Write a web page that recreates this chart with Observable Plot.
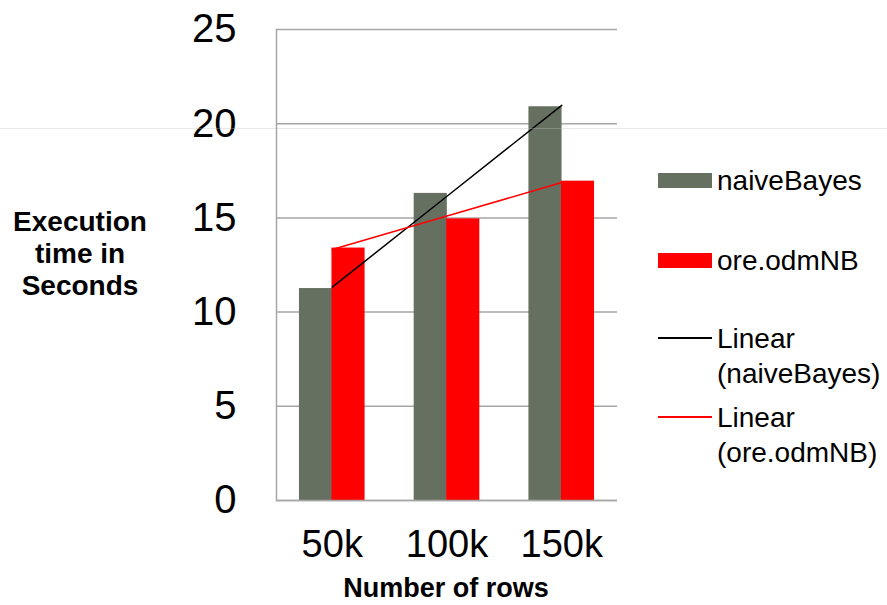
<!DOCTYPE html>
<html><head><meta charset="utf-8">
<script src="https://cdn.jsdelivr.net/npm/d3@7"></script>
<script src="https://cdn.jsdelivr.net/npm/@observablehq/plot@0.6"></script>
<style>
body{margin:0;background:#fff;font-family:"Liberation Sans",Arial,sans-serif;color:#000}
#wrap{position:relative;width:887px;height:605px;overflow:hidden}
#chart{position:absolute;left:0;top:0}
.abs{position:absolute;white-space:nowrap}
#ytitle{left:0;width:160px;top:206px;text-align:center;font-weight:bold;font-size:28px;line-height:32px}
#xtitle{left:246px;width:400px;top:573px;text-align:center;font-weight:bold;font-size:27px;line-height:30px}
.sw{position:absolute;width:54px}
.lt{position:absolute;font-size:28px;line-height:35px}
#artifact{position:absolute;left:0;top:128px;width:887px;height:1px;background:rgba(190,190,190,0.35)}
</style></head><body>
<div id="wrap">
<div id="chart"></div>
<div id="ytitle" class="abs">Execution<br>time in<br>Seconds</div>
<div id="xtitle" class="abs">Number of rows</div>
<div id="legend"></div>
<div id="artifact"></div>
</div>
<script>
const categories = ["50k", "100k", "150k"];
const seriesNames = ["naiveBayes", "ore.odmNB"];
const naiveBayes = [11.25, 16.3, 20.9];
const oreOdmNB = [13.4, 14.95, 16.95];
const yTicks = [0, 5, 10, 15, 20, 25];
const trendNames = ["Linear\n(naiveBayes)", "Linear\n(ore.odmNB)"];
const colors = {naiveBayes: "#667060", ore: "#ff0000", trendNB: "#000000", trendOre: "#ff0000", grid: "#a6a6a6"};

// least-squares linear trend over category index (1..n), like a spreadsheet trendline
function linearTrend(vals) {
  const xs = vals.map((_, i) => i + 1);
  const mx = d3.mean(xs), my = d3.mean(vals);
  const b = d3.sum(xs, (x, i) => (x - mx) * (vals[i] - my)) / d3.sum(xs, x => (x - mx) ** 2);
  const a = my - b * mx;
  return xs.map((x, i) => ({cat: categories[i], v: a + b * x}));
}

const table = categories.map((c, i) => ({cat: c, nb: naiveBayes[i], ore: oreOdmNB[i]}));
const trendNB = linearTrend(naiveBayes);
const trendOre = linearTrend(oreOdmNB);

const chart = Plot.plot({
  width: 887, height: 605,
  marginLeft: 276, marginRight: 270, marginTop: 29, marginBottom: 105,
  x: {domain: categories, paddingInner: 0.428, paddingOuter: 0.2, round: false, label: null},
  y: {domain: [0, 25], label: null},
  style: {fontFamily: "'Liberation Sans', Arial, sans-serif", color: "#000", background: "transparent"},
  marks: [
    Plot.gridY(yTicks, {stroke: colors.grid, strokeOpacity: 1, strokeWidth: 1.5}),
    Plot.barY(table, {x: "cat", y: "nb", fill: colors.naiveBayes, insetRight: 32.5}),
    Plot.barY(table, {x: "cat", y: "ore", fill: colors.ore, insetLeft: 32.5}),
    Plot.line(trendNB, {x: "cat", y: "v", stroke: colors.trendNB, strokeWidth: 1.5}),
    Plot.line(trendOre, {x: "cat", y: "v", stroke: colors.trendOre, strokeWidth: 1.5}),
    Plot.frame({anchor: "left", stroke: colors.grid, strokeWidth: 1.5}),
    Plot.ruleY([0], {stroke: colors.grid, strokeWidth: 1.5}),
    Plot.axisY(yTicks, {tickSize: 0, tickPadding: 40, fontSize: 40, label: null}),
    Plot.axisX({tickSize: 0, tickPadding: 30, fontSize: 38, label: null})
  ]
});
document.getElementById("chart").appendChild(chart);

// legend
const leg = document.getElementById("legend");
const items = [
  {type: "box", color: colors.naiveBayes, label: seriesNames[0], y: 180},
  {type: "box", color: colors.ore, label: seriesNames[1], y: 260},
  {type: "line", color: colors.trendNB, label: trendNames[0], y: 338},
  {type: "line", color: colors.trendOre, label: trendNames[1], y: 417}
];
for (const it of items) {
  const sw = document.createElement("div");
  sw.className = "sw";
  sw.style.left = "658px";
  sw.style.background = it.color;
  if (it.type === "box") { sw.style.top = (it.y - 7) + "px"; sw.style.height = "15px"; }
  else { sw.style.top = (it.y - 1) + "px"; sw.style.height = "1.5px"; }
  leg.appendChild(sw);
  const t = document.createElement("div");
  t.className = "lt abs";
  t.style.left = "717px";
  t.style.top = (it.y - 17.5) + "px";
  t.innerHTML = it.label.replace("\n", "<br>");
  leg.appendChild(t);
}
</script>
</body></html>
